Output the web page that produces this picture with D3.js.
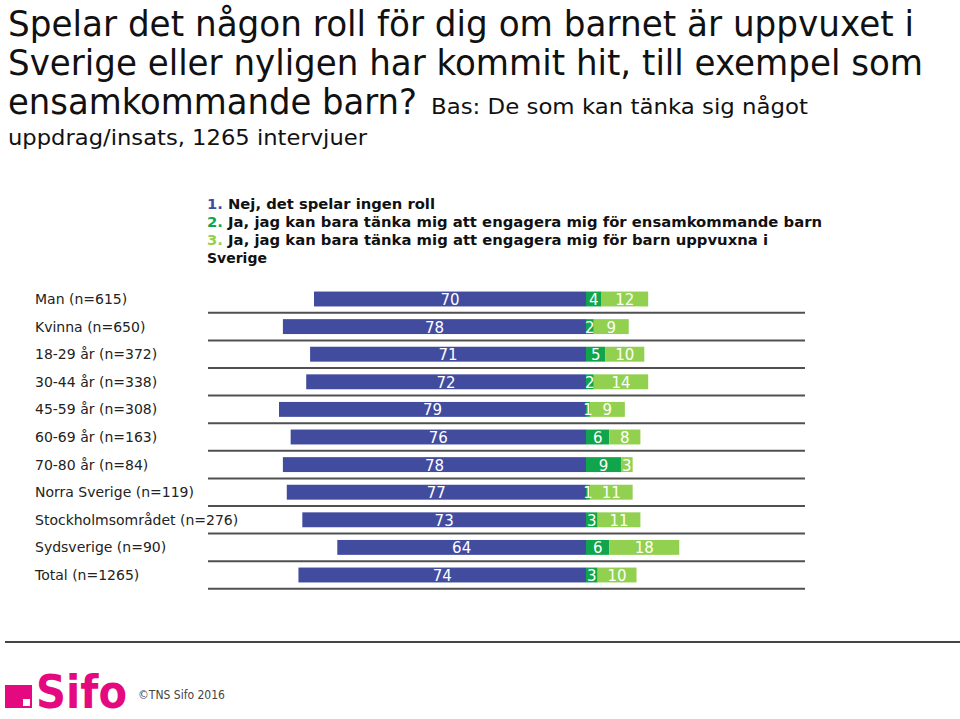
<!DOCTYPE html>
<html>
<head>
<meta charset="utf-8">
<script src="https://cdn.jsdelivr.net/npm/d3@7"></script>
<style>
html,body{margin:0;padding:0;background:#fff;}
svg{display:block;}
text{font-family:"DejaVu Sans",Verdana,sans-serif;}
</style>
</head>
<body>
<svg id="chart" width="960" height="719"></svg>
<script>
const categories = ["Man (n=615)","Kvinna (n=650)","18-29 år (n=372)","30-44 år (n=338)","45-59 år (n=308)","60-69 år (n=163)","70-80 år (n=84)","Norra Sverige (n=119)","Stockholmsområdet (n=276)","Sydsverige (n=90)","Total (n=1265)"];
const nejValues = [70,78,71,72,79,76,78,77,73,64,74];
const ensamValues = [4,2,5,2,1,6,9,1,3,6,3];
const sverigeValues = [12,9,10,14,9,8,3,11,11,18,10];
const seriesNames = ["Nej, det spelar ingen roll","Ja, jag kan bara tänka mig att engagera mig för ensamkommande barn","Ja, jag kan bara tänka mig att engagera mig för barn uppvuxna i Sverige"];
const colors = ["#424C9F","#10A54C","#92D050"];

const svg = d3.select("#chart");
const titleFont = "'DejaVu Sans Condensed','DejaVu Sans',Verdana,sans-serif";

// Title
const title = svg.append("g").attr("font-family",titleFont).attr("fill","#111");
title.append("text").attr("x",8).attr("y",36).attr("font-size",35)
  .attr("textLength",906).attr("lengthAdjust","spacingAndGlyphs")
  .text("Spelar det någon roll för dig om barnet är uppvuxet i");
title.append("text").attr("x",8).attr("y",75).attr("font-size",35)
  .attr("textLength",915).attr("lengthAdjust","spacingAndGlyphs")
  .text("Sverige eller nyligen har kommit hit, till exempel som");
title.append("text").attr("x",8).attr("y",114).attr("font-size",35)
  .attr("textLength",409).attr("lengthAdjust","spacingAndGlyphs")
  .text("ensamkommande barn?");
title.append("text").attr("x",431).attr("y",114).attr("font-size",22)
  .attr("textLength",377).attr("lengthAdjust","spacingAndGlyphs")
  .text("Bas: De som kan tänka sig något");
title.append("text").attr("x",8).attr("y",145).attr("font-size",22)
  .attr("textLength",359).attr("lengthAdjust","spacingAndGlyphs")
  .text("uppdrag/insats, 1265 intervjuer");

// Legend
const legend = svg.append("g").attr("font-size",14).attr("font-weight","bold");
const legLines = [
  {num:"1. ", txt:seriesNames[0], c:colors[0], y:209, len:228},
  {num:"2. ", txt:seriesNames[1], c:colors[1], y:227, len:615},
  {num:"3. ", txt:"Ja, jag kan bara tänka mig att engagera mig för barn uppvuxna i", c:colors[2], y:245, len:561},
];
legLines.forEach(l=>{
  const t = legend.append("text").attr("x",207).attr("y",l.y).attr("fill","#111")
    .attr("textLength",l.len).attr("lengthAdjust","spacingAndGlyphs");
  t.append("tspan").attr("fill",l.c).text(l.num);
  t.append("tspan").text(l.txt);
});
legend.append("text").attr("x",207).attr("y",263).attr("fill","#111").text("Sverige");

// Scales
const zeroX = 586;
const x = d3.scaleLinear().domain([0,100]).range([0,388.6]);
const y = d3.scaleBand().domain(categories).range([285.2,588.8]).paddingInner(0.46).paddingOuter(0.23);
const step = y.step();

const rows = categories.map((c,i)=>({cat:c, nej:nejValues[i], ensam:ensamValues[i], sverige:sverigeValues[i]}));

const g = svg.append("g");

// category labels
g.selectAll("text.cat").data(rows).join("text").attr("class","cat")
  .attr("x",35).attr("y",d=>y(d.cat)+y.bandwidth()/2+5)
  .attr("font-size",14).attr("fill","#222").text(d=>d.cat);

// separator lines
g.selectAll("line.sep").data(rows).join("line").attr("class","sep")
  .attr("x1",208).attr("x2",805)
  .attr("y1",d=>y(d.cat)+y.bandwidth()/2+step/2)
  .attr("y2",d=>y(d.cat)+y.bandwidth()/2+step/2)
  .attr("stroke","#505050").attr("stroke-width",2);

// bars
const segs = [];
rows.forEach(d=>{
  segs.push({cat:d.cat, x0:zeroX - x(d.nej), w:x(d.nej), v:d.nej, c:colors[0]});
  segs.push({cat:d.cat, x0:zeroX, w:x(d.ensam), v:d.ensam, c:colors[1]});
  segs.push({cat:d.cat, x0:zeroX + x(d.ensam), w:x(d.sverige), v:d.sverige, c:colors[2]});
});
g.selectAll("rect.bar").data(segs).join("rect").attr("class","bar")
  .attr("x",d=>d.x0).attr("y",d=>y(d.cat)).attr("width",d=>d.w).attr("height",y.bandwidth())
  .attr("fill",d=>d.c);
g.selectAll("text.val").data(segs).join("text").attr("class","val")
  .attr("x",d=>d.x0+d.w/2).attr("y",d=>y(d.cat)+y.bandwidth()/2+6)
  .attr("text-anchor","middle").attr("font-size",15).attr("fill","#fff")
  .text(d=>d.v);

// footer
svg.append("line").attr("x1",5).attr("x2",960).attr("y1",642).attr("y2",642)
  .attr("stroke","#444").attr("stroke-width",2);
svg.append("rect").attr("x",5).attr("y",685).attr("width",27).attr("height",23).attr("fill","#E5097F");
svg.append("rect").attr("x",23).attr("y",699).attr("width",7).attr("height",7).attr("fill","#fff");
svg.append("text").attr("x",36).attr("y",708).attr("font-family","'Liberation Sans',Arial,sans-serif")
  .attr("font-weight","bold").attr("font-size",47).attr("fill","#E5097F")
  .attr("textLength",91).attr("lengthAdjust","spacingAndGlyphs").text("Sifo");
svg.append("text").attr("x",138).attr("y",699).attr("font-family","'Liberation Sans',Arial,sans-serif")
  .attr("font-size",13).attr("fill","#444")
  .attr("textLength",87).attr("lengthAdjust","spacingAndGlyphs").text("©TNS Sifo 2016");
</script>
</body>
</html>
